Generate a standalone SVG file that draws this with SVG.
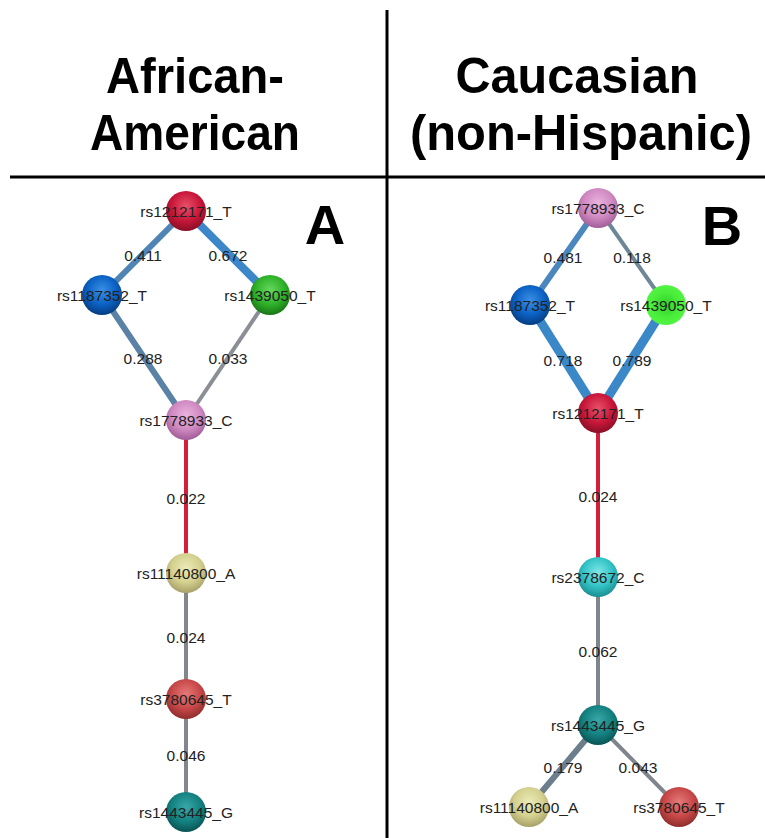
<svg xmlns="http://www.w3.org/2000/svg" width="765" height="838" viewBox="0 0 765 838">
  <defs>
    <radialGradient id="gRed" cx="50%" cy="38%" r="60%">
      <stop offset="0" stop-color="#e8506a"/>
      <stop offset="0.6" stop-color="#c9173a"/>
      <stop offset="1" stop-color="#8e0f26"/>
    </radialGradient>
    <radialGradient id="gBlue" cx="50%" cy="38%" r="60%">
      <stop offset="0" stop-color="#3b8fe6"/>
      <stop offset="0.6" stop-color="#0b62c4"/>
      <stop offset="1" stop-color="#063f85"/>
    </radialGradient>
    <radialGradient id="gGreen" cx="50%" cy="38%" r="60%">
      <stop offset="0" stop-color="#66d95e"/>
      <stop offset="0.6" stop-color="#2fb22a"/>
      <stop offset="1" stop-color="#1a7a17"/>
    </radialGradient>
    <radialGradient id="gLime" cx="50%" cy="50%" r="55%">
      <stop offset="0" stop-color="#2fd02a"/>
      <stop offset="0.6" stop-color="#4aee3a"/>
      <stop offset="1" stop-color="#55f545"/>
    </radialGradient>
    <radialGradient id="gPink" cx="50%" cy="38%" r="60%">
      <stop offset="0" stop-color="#eab3df"/>
      <stop offset="0.6" stop-color="#d08ac2"/>
      <stop offset="1" stop-color="#a3609a"/>
    </radialGradient>
    <radialGradient id="gKhaki" cx="50%" cy="38%" r="60%">
      <stop offset="0" stop-color="#ecebb8"/>
      <stop offset="0.6" stop-color="#d4d08f"/>
      <stop offset="1" stop-color="#aaa46a"/>
    </radialGradient>
    <radialGradient id="gBrick" cx="50%" cy="38%" r="60%">
      <stop offset="0" stop-color="#e57a7a"/>
      <stop offset="0.6" stop-color="#c84848"/>
      <stop offset="1" stop-color="#932f2f"/>
    </radialGradient>
    <radialGradient id="gTeal" cx="50%" cy="38%" r="60%">
      <stop offset="0" stop-color="#3aa8a8"/>
      <stop offset="0.6" stop-color="#158282"/>
      <stop offset="1" stop-color="#0a5757"/>
    </radialGradient>
    <radialGradient id="gCyan" cx="50%" cy="38%" r="60%">
      <stop offset="0" stop-color="#7fe6e6"/>
      <stop offset="0.6" stop-color="#33c3c6"/>
      <stop offset="1" stop-color="#1d9296"/>
    </radialGradient>
  </defs>
  <style>
    .head { font-family: "Liberation Sans", Arial, sans-serif; font-weight: bold; font-size: 50px; fill: #000; text-anchor: middle; }
    .tag { font-family: "Liberation Sans", Arial, sans-serif; font-weight: bold; font-size: 56px; fill: #000; text-anchor: middle; }
    .lbl { font-family: "Liberation Sans", Arial, sans-serif; font-size: 15.5px; fill: #222; text-anchor: middle; }
    .rule { stroke: #000; stroke-width: 3; }
    .e { fill: none; stroke-linecap: butt; }
  </style>

  <rect width="765" height="838" fill="#fff"/>

  <!-- frame rules -->
  <line class="rule" x1="10" y1="177" x2="765" y2="177"/>
  <line class="rule" x1="387" y1="10" x2="387" y2="838"/>

  <!-- column headings -->
  <text class="head" x="195" y="93" textLength="178" lengthAdjust="spacingAndGlyphs">African-</text>
  <text class="head" x="195" y="150" textLength="210" lengthAdjust="spacingAndGlyphs">American</text>
  <text class="head" x="577" y="93" textLength="243" lengthAdjust="spacingAndGlyphs">Caucasian</text>
  <text class="head" x="581" y="150" textLength="342" lengthAdjust="spacingAndGlyphs">(non-Hispanic)</text>
  <text class="tag" x="325" y="244">A</text>
  <text class="tag" x="722" y="245">B</text>

  <!-- connectors -->
  <g id="connectors">
    <!-- panel A -->
    <line class="e" x1="186" y1="211" x2="102" y2="295" stroke="#4f84b4" stroke-width="6"/>
    <line class="e" x1="186" y1="211" x2="270" y2="295" stroke="#3c87c9" stroke-width="8"/>
    <line class="e" x1="102" y1="295" x2="186" y2="420" stroke="#5a81a6" stroke-width="6"/>
    <line class="e" x1="270" y1="295" x2="186" y2="420" stroke="#8b8f95" stroke-width="4"/>
    <line class="e" x1="186" y1="420" x2="186" y2="573" stroke="#d41e3e" stroke-width="4"/>
    <line class="e" x1="186" y1="573" x2="186" y2="699" stroke="#82868d" stroke-width="4"/>
    <line class="e" x1="186" y1="699" x2="186" y2="812" stroke="#82868d" stroke-width="4"/>
    <!-- panel B -->
    <line class="e" x1="598" y1="208" x2="530" y2="305" stroke="#4a87bf" stroke-width="6"/>
    <line class="e" x1="598" y1="208" x2="666" y2="305" stroke="#6e8797" stroke-width="4"/>
    <line class="e" x1="530" y1="305" x2="598" y2="413" stroke="#3b88c9" stroke-width="9"/>
    <line class="e" x1="666" y1="305" x2="598" y2="413" stroke="#3b88c9" stroke-width="9"/>
    <line class="e" x1="598" y1="413" x2="598" y2="577" stroke="#d41e3e" stroke-width="4"/>
    <line class="e" x1="598" y1="577" x2="598" y2="725" stroke="#7f858d" stroke-width="4"/>
    <line class="e" x1="598" y1="725" x2="529" y2="807" stroke="#6c7d8c" stroke-width="6"/>
    <line class="e" x1="598" y1="725" x2="679" y2="807" stroke="#7f858d" stroke-width="4"/>

    <!-- edge weights -->
    <text class="lbl" x="143" y="261">0.411</text>
    <text class="lbl" x="228" y="261">0.672</text>
    <text class="lbl" x="143" y="364">0.288</text>
    <text class="lbl" x="228" y="364">0.033</text>
    <text class="lbl" x="186" y="504">0.022</text>
    <text class="lbl" x="186" y="643">0.024</text>
    <text class="lbl" x="186" y="761">0.046</text>

    <text class="lbl" x="563" y="263">0.481</text>
    <text class="lbl" x="632" y="263">0.118</text>
    <text class="lbl" x="563" y="366">0.718</text>
    <text class="lbl" x="632" y="366">0.789</text>
    <text class="lbl" x="598" y="502">0.024</text>
    <text class="lbl" x="598" y="657">0.062</text>
    <text class="lbl" x="563" y="773">0.179</text>
    <text class="lbl" x="638" y="773">0.043</text>
  </g>

  <!-- panel A nodes -->
  <g id="a_rs1212171_T"><circle cx="186" cy="211" r="20" fill="url(#gRed)"/><text class="lbl" x="186" y="217">rs1212171_T</text></g>
  <g id="a_rs1187352_T"><circle cx="102" cy="295" r="20" fill="url(#gBlue)"/><text class="lbl" x="102" y="301">rs1187352_T</text></g>
  <g id="a_rs1439050_T"><circle cx="270" cy="295" r="20" fill="url(#gGreen)"/><text class="lbl" x="270" y="301">rs1439050_T</text></g>
  <g id="a_rs1778933_C"><circle cx="186" cy="420" r="20" fill="url(#gPink)"/><text class="lbl" x="186" y="426">rs1778933_C</text></g>
  <g id="a_rs11140800_A"><circle cx="186" cy="573" r="20" fill="url(#gKhaki)"/><text class="lbl" x="186" y="579">rs11140800_A</text></g>
  <g id="a_rs3780645_T"><circle cx="186" cy="699" r="20" fill="url(#gBrick)"/><text class="lbl" x="186" y="705">rs3780645_T</text></g>
  <g id="a_rs1443445_G"><circle cx="186" cy="812" r="20" fill="url(#gTeal)"/><text class="lbl" x="186" y="818">rs1443445_G</text></g>

  <!-- panel B nodes -->
  <g id="b_rs1778933_C"><circle cx="598" cy="208" r="20" fill="url(#gPink)"/><text class="lbl" x="598" y="214">rs1778933_C</text></g>
  <g id="b_rs1187352_T"><circle cx="530" cy="305" r="20" fill="url(#gBlue)"/><text class="lbl" x="530" y="311">rs1187352_T</text></g>
  <g id="b_rs1439050_T"><circle cx="666" cy="305" r="20" fill="url(#gLime)"/><text class="lbl" x="666" y="311">rs1439050_T</text></g>
  <g id="b_rs1212171_T"><circle cx="598" cy="413" r="20" fill="url(#gRed)"/><text class="lbl" x="598" y="419">rs1212171_T</text></g>
  <g id="b_rs2378672_C"><circle cx="598" cy="577" r="20" fill="url(#gCyan)"/><text class="lbl" x="598" y="583">rs2378672_C</text></g>
  <g id="b_rs1443445_G"><circle cx="598" cy="725" r="20" fill="url(#gTeal)"/><text class="lbl" x="598" y="731">rs1443445_G</text></g>
  <g id="b_rs11140800_A"><circle cx="529" cy="807" r="20" fill="url(#gKhaki)"/><text class="lbl" x="529" y="813">rs11140800_A</text></g>
  <g id="b_rs3780645_T"><circle cx="679" cy="807" r="20" fill="url(#gBrick)"/><text class="lbl" x="679" y="813">rs3780645_T</text></g>
</svg>
